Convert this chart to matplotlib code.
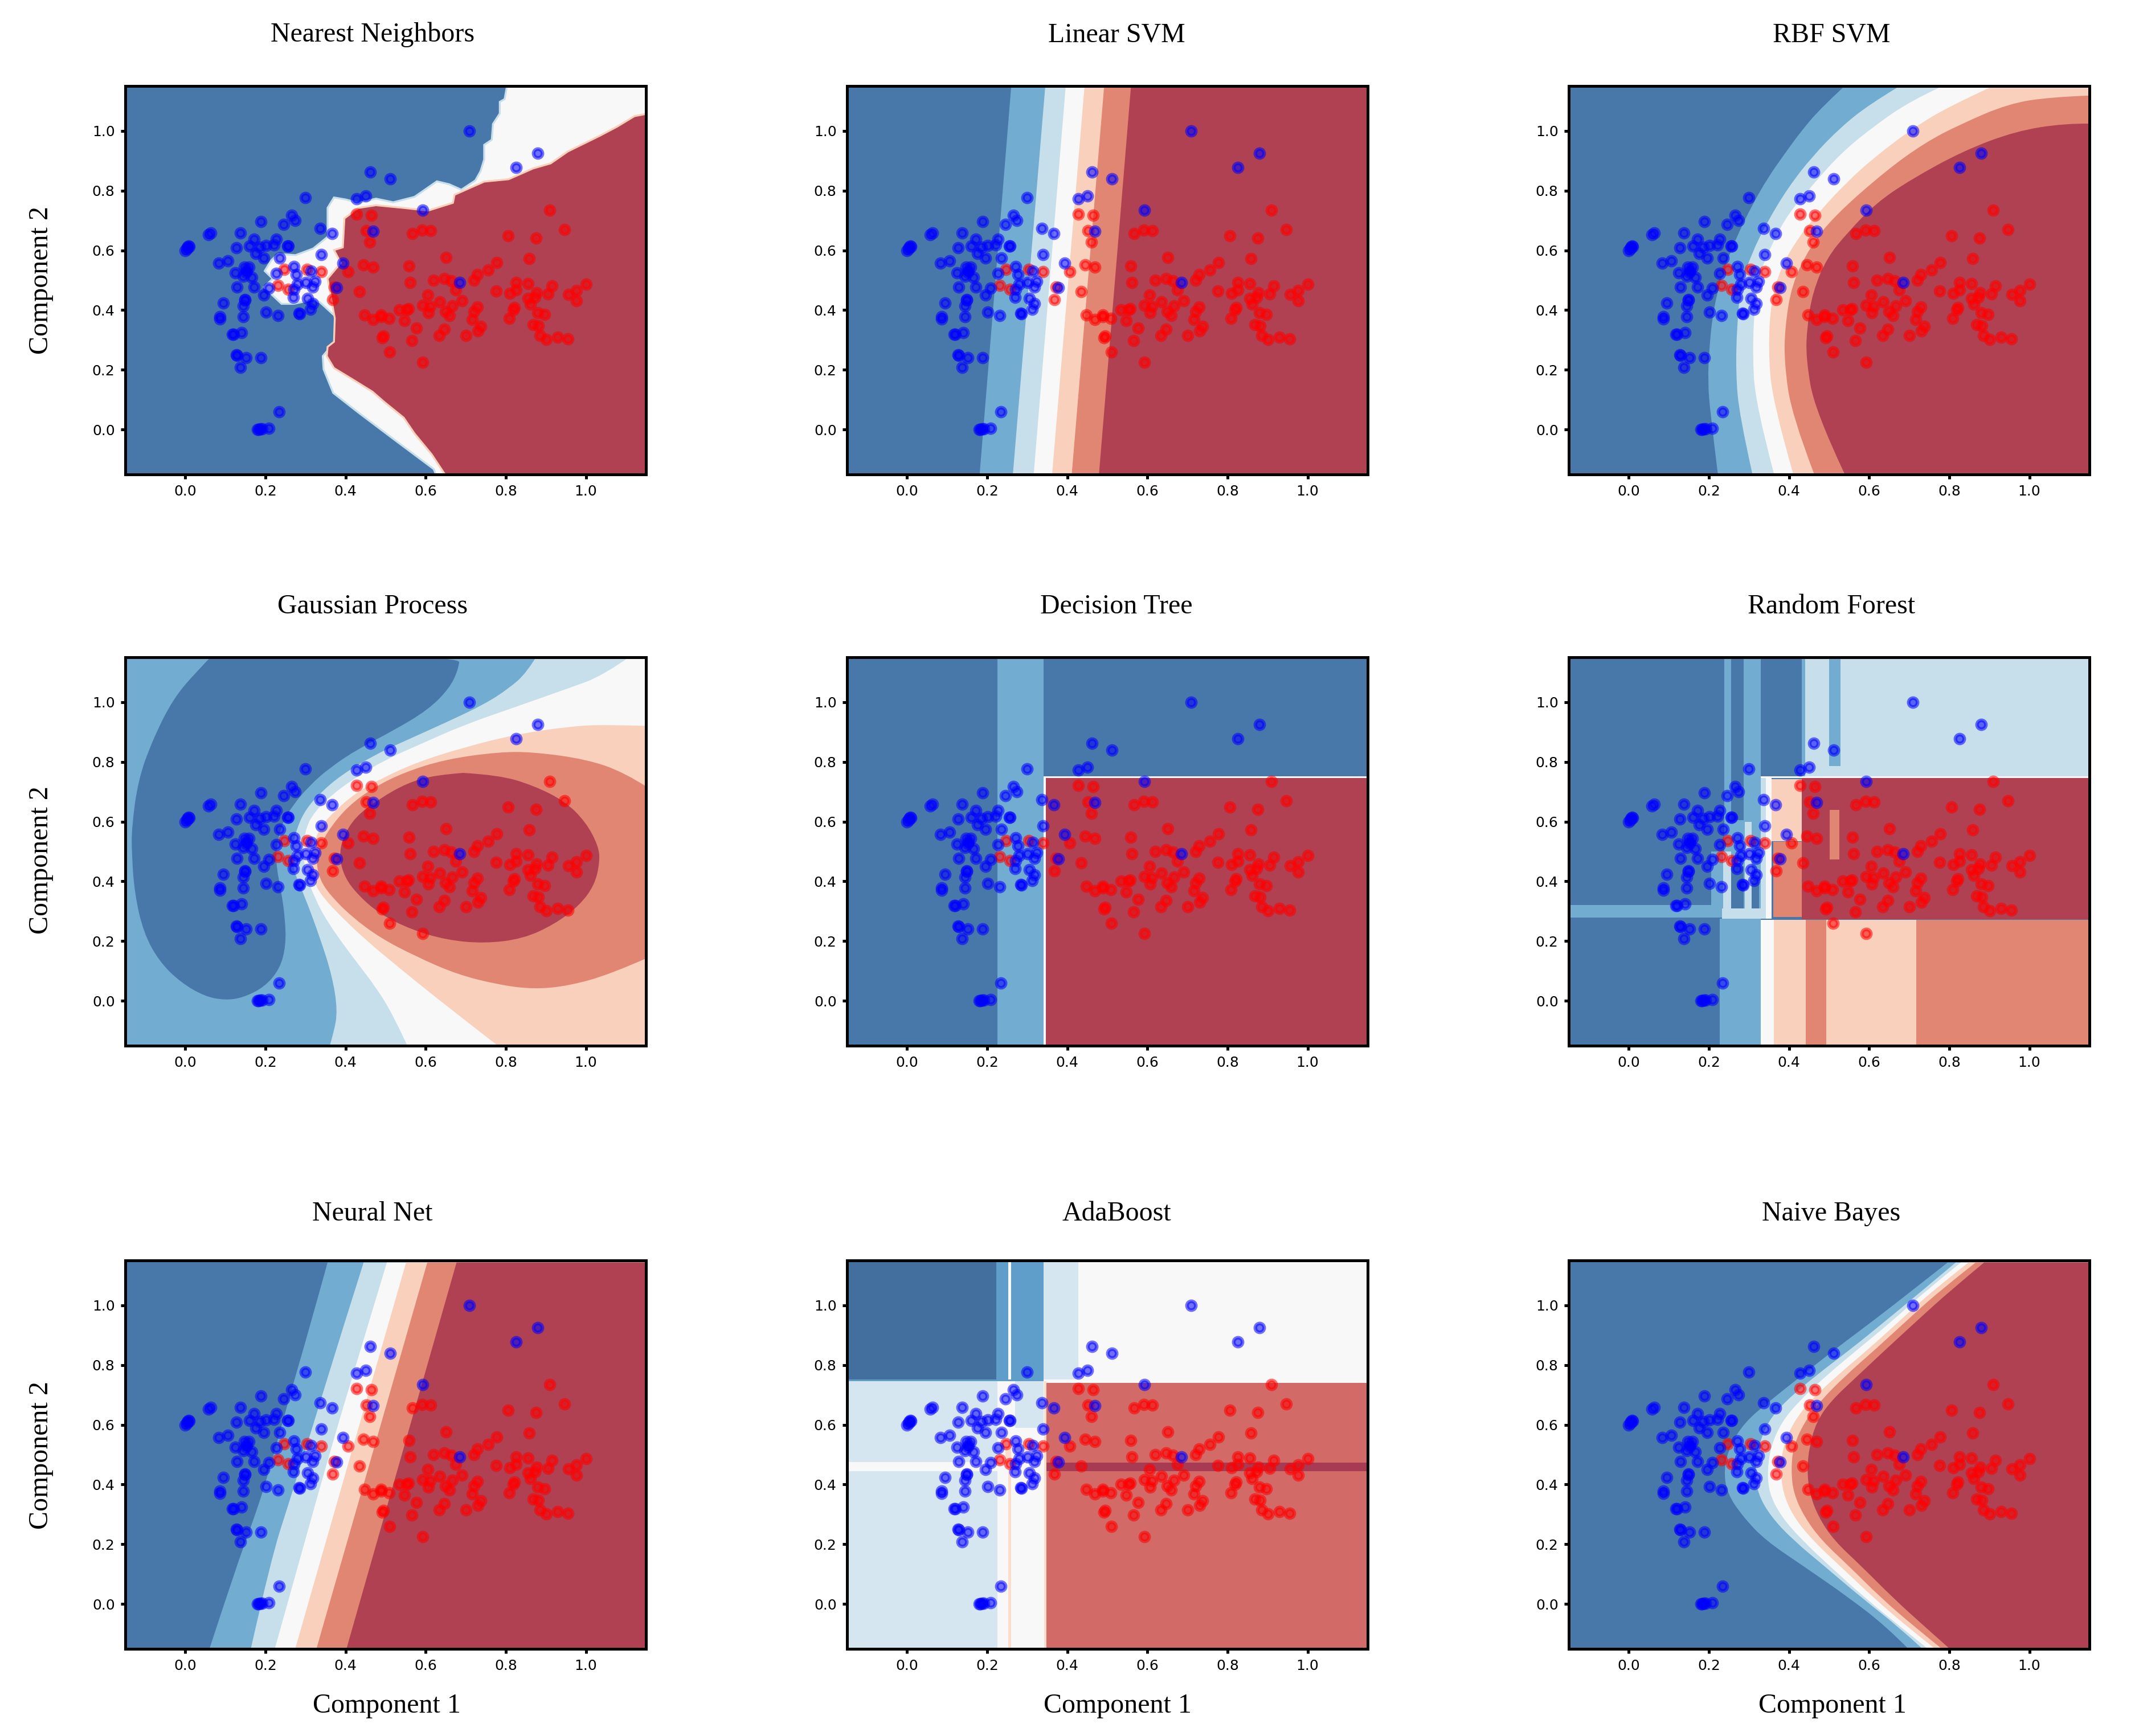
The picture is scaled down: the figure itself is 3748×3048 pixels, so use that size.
import numpy as np
import matplotlib
matplotlib.use("Agg")
import matplotlib.pyplot as plt
from matplotlib.path import Path
from matplotlib.patches import PathPatch

W, H = 3748, 3048
SERIF = ["Liberation Serif", "DejaVu Serif"]

# level colours of the decision surfaces (RdBu at alpha 0.8 over white)
L = ["#4878A9", "#72ACD1", "#C7DFEB", "#F8F8F8", "#F9D0BB", "#E08673", "#AF4152"]
LA = ["#436F9F", "#5F9DCB", "#D5E6F0", "#F8F8F8", "#FDDCCB", "#D26B68", "#A63B53"]

names = ["Nearest Neighbors", "Linear SVM", "RBF SVM",
         "Gaussian Process", "Decision Tree", "Random Forest",
         "Neural Net", "AdaBoost", "Naive Bayes"]
ticks = [0.0, 0.2, 0.4, 0.6, 0.8, 1.0]

# scatter points
blue_x = [0.0, 0.003, 0.005, 0.008, 0.01, .057, .064, .137, .188, .127, .172, .160, .185, .202, .221, .227,
          .255, .257, .175, .195, .236, .083, .106, .147, .159, .153, .151, .125, .144, .166, .129, .172,
          .196, .149, .149, .095, .144, .145, .086, .086, .201, .231, .284, .285, .312, .318, .305, .269,
          .271, .279, .301, .323, .318, .209, .227, .277, .271, .314, .339, .367, .336, .246, .265, .274,
          .300, .427, .450, .462, .512, .709, .826, .880, .592, .469, .393, .377, .685, .118, .120, .140,
          .128, .129, .152, .188, .137, .234, .180, .183, .187, .191, .208]
blue_y = [.600, .605, .610, .615, .613, .652, .659, .658, .696, .608, .637, .614, .610, .617, .619, .638,
          .615, .615, .590, .575, .575, .558, .565, .543, .544, .533, .527, .525, .514, .509, .478, .478,
          .450, .436, .433, .423, .415, .378, .378, .371, .393, .382, .389, .388, .402, .421, .439, .443,
          .470, .487, .492, .496, .477, .474, .522, .520, .546, .531, .586, .656, .673, .687, .718, .701,
          .776, .773, .783, .862, .839, 1.0, .877, .926, .735, .664, .557, .476, .492, .318, .318, .324,
          .250, .248, .241, .241, .208, .060, .000, .001, .002, .002, .004]
red_x = [.428, .464, .451, .460, .567, .591, .613, .806, .875, .909, .947, .859, .778, .756, .729, .720,
         .651, .559, .561, .620, .646, .663, .675, .690, .666, .635, .605, .593, .611, .606, .557, .552,
         .534, .650, .659, .647, .633, .701, .729, .720, .716, .737, .730, .565, .577, .547, .508, .488,
         .489, .468, .447, .495, .491, .510, .592, .434, .468, .445, .406, .368, .339, .304, .247, .231,
         .257, .776, .810, .826, .825, .856, .915, .906, .877, .873, .855, .861, .976, .956, 1.0, .977,
         .821, .818, .809, .880, .897, .868, .881, .886, .901, .929, .955, .372]
red_y = [.721, .718, .665, .628, .657, .667, .665, .649, .641, .735, .670, .573, .560, .535, .520, .500,
         .577, .548, .493, .500, .505, .499, .468, .432, .415, .428, .450, .417, .413, .391, .404, .401,
         .400, .395, .382, .336, .315, .316, .410, .395, .369, .345, .331, .297, .339, .364, .372, .384,
         .378, .369, .383, .314, .307, .259, .225, .461, .543, .551, .528, .435, .529, .536, .537, .482,
         .470, .464, .456, .468, .492, .489, .481, .455, .459, .443, .439, .419, .465, .452, .487, .432,
         .408, .401, .373, .391, .385, .351, .347, .316, .301, .310, .303, .478]

# Nearest Neighbors boundaries
knn_white_x = [.803, .797, .785, .785, .768, .765, .746, .746, .737, .724, .689, .659, .628, .572, .519, .476, .432,
               .401, .371, .355, .355, .319, .275, .231, .214, .198, .218, .196, .240, .271, .319, .336, .375, .373,
               .343, .345, .369, .432, .519, .620, .628]
knn_white_y = [1.150, 1.106, 1.097, 1.058, 1.023, .970, .953, .904, .865, .834, .803, .821, .831, .779, .761, .773,
               .759, .770, .777, .742, .645, .606, .584, .588, .566, .531, .505, .477, .421, .421, .435, .426, .378,
               .294, .246, .202, .123, .057, -.031, -.132, -.158]
knn_red_x = [1.156, 1.121, 1.078, 1.034, .955, .912, .868, .807, .746, .672, .668, .606, .545, .476, .432, .397, .393,
             .371, .388, .355, .373, .371, .355, .353, .371, .414, .467, .497, .545, .572, .615, .650]
knn_red_y = [1.058, 1.049, 1.014, .983, .931, .891, .874, .838, .830, .786, .759, .733, .742, .751, .742, .707, .610,
             .601, .558, .505, .373, .294, .277, .246, .206, .171, .127, .092, .040, -.013, -.083, -.154]

# Linear SVM band edges at the top and the bottom of the axes
svm_y = [1.15, -.15]
svm_top = [.260, .345, .396, .443, .492, .559]
svm_bottom = [.181, .264, .316, .362, .411, .479]

# RBF SVM band edges
rbf_x1 = [.534, .481, .433, .390, .346, .307, .272, .245, .224, .209, .201, .197, .204, .222]
rbf_y1 = [1.144, 1.078, 1.004, .925, .841, .749, .653, .565, .477, .381, .275, .161, .047, -.146]
rbf_x2 = [.669, .599, .529, .459, .398, .346, .307, .280, .270, .267, .276, .308]
rbf_y2 = [1.144, 1.087, 1.012, .916, .811, .696, .591, .486, .354, .188, .047, -.146]
rbf_x3 = [.774, .704, .617, .529, .459, .398, .359, .328, .314, .309, .315, .362]
rbf_y3 = [1.144, 1.100, 1.021, .925, .819, .723, .626, .530, .416, .267, .091, -.146]
rbf_x4 = [.900, .800, .713, .617, .547, .477, .424, .381, .355, .348, .359, .410]
rbf_y4 = [1.144, 1.082, 1.012, .916, .832, .732, .644, .547, .433, .267, .091, -.146]
rbf_x5 = [1.149, 1.053, .948, .826, .739, .643, .512, .451, .407, .390, .388, .407, .462]
rbf_y5 = [1.118, 1.113, 1.091, 1.021, .960, .868, .714, .609, .486, .346, .223, .047, -.146]
rbf_x6 = [1.149, 1.088, .966, .835, .704, .617, .547, .494, .459, .445, .442, .464, .538]
rbf_y6 = [1.024, 1.025, .999, .933, .837, .758, .661, .574, .460, .346, .240, .065, -.146]

# Gaussian Process contours
gp_blob_x = [.070, .686, .681, .659, .607, .520, .432, .362, .310, .266, .240, .227, .227, .240, .249, .251, .236,
             .197, .144, .100, .048, -.013, -.066, -.105, -.127, -.134, -.134, -.118, -.083, -.031, .031]
gp_blob_y = [1.160, 1.160, 1.107, 1.046, .975, .905, .844, .782, .721, .651, .589, .511, .449, .361, .274, .186,
             .107, .046, .011, .002, .015, .063, .133, .230, .361, .493, .581, .739, .870, 1.011, 1.107]
gp_light_x = [.880, .852, .808, .747, .651, .563, .476, .389, .336, .301, .279, .265, .271, .297, .336, .367, .380,
              .371, .360]
gp_light_y = [1.160, 1.098, 1.046, .993, .932, .879, .826, .756, .695, .642, .581, .502, .432, .353, .212, .081,
              -.033, -.104, -.152]
gp_white_x = [1.118, 1.044, .956, .825, .694, .590, .502, .424, .362, .323, .301, .293, .301, .323, .354, .415, .476,
              .520, .555]
gp_white_y = [1.160, 1.089, 1.046, .984, .923, .861, .809, .747, .686, .633, .581, .502, .423, .344, .265, .151,
              .046, -.051, -.152]
gp_peach_x = [1.157, 1.044, .956, .825, .694, .581, .493, .424, .371, .336, .319, .314, .321, .345, .389, .450, .537,
              .651, .782]
gp_peach_y = [.920, .925, .918, .892, .848, .800, .747, .695, .633, .581, .519, .467, .396, .344, .282, .204, .107,
              -.016, -.152]
gp_salmon_x = [1.157, 1.096, 1.0, .869, .782, .651, .546, .467, .406, .362, .336, .326, .336, .362, .415, .485, .572,
               .677, .782, .869, .956, 1.061, 1.157]
gp_salmon_y = [.712, .765, .809, .833, .833, .809, .765, .712, .651, .581, .519, .467, .405, .353, .282, .212, .151,
               .089, .054, .039, .050, .089, .146]
gp_red_x = [.694, .782, .869, .948, 1.0, 1.031, 1.035, 1.022, .983, .921, .843, .747, .651, .563, .485, .432, .397,
            .384, .393, .424, .485, .555, .624]
gp_red_y = [.763, .756, .721, .668, .598, .519, .467, .388, .318, .256, .208, .192, .204, .239, .291, .353, .414,
            .484, .546, .616, .677, .730, .756]

# Neural Net band edges
nn_x1 = [.355, .306, .262, .205, .166, .127, .061]
nn_y1 = [1.143, .906, .704, .424, .266, .125, -.146]
nn_x2 = [.445, .389, .323, .258, .214, .164]
nn_y2 = [1.143, .906, .617, .336, .152, -.146]
nn_x3 = [.503, .436, .367, .297, .224]
nn_y3 = [1.143, .845, .538, .204, -.146]
nn_x4 = [.551, .419, .275]
nn_y4 = [1.143, .529, -.146]
nn_x5 = [.604, .328]
nn_y5 = [1.143, -.146]
nn_x6 = [.677, .403]
nn_y6 = [1.143, -.146]

# Naive Bayes band edges, all read at the same heights
nb_y = [1.143, 1.046, .950, .854, .766, .678, .608, .529, .450, .371, .292, .213, .125, .020, -.076, -.146]
nb_x1 = [.796, .704, .612, .516, .433, .350, .289, .252, .237, .245, .285, .341, .438, .551, .643, .695]
nb_x2 = [.816, .730, .643, .555, .468, .390, .346, .324, .315, .321, .355, .411, .490, .582, .673, .730]
nb_x3 = [.829, .739, .660, .573, .494, .424, .381, .355, .346, .350, .381, .433, .503, .590, .678, .743]
nb_x4 = [.848, .756, .678, .599, .521, .451, .411, .385, .379, .385, .411, .459, .529, .612, .695, .761]
nb_x5 = [.866, .774, .695, .617, .542, .477, .438, .411, .405, .411, .438, .481, .551, .630, .713, .778]
nb_x6 = [.887, .800, .721, .643, .573, .503, .468, .451, .445, .451, .473, .512, .582, .660, .739, .798]

# Decision Tree boxes, painted in order
dt_x0 = [-.15, .226, .341, .347]
dt_x1 = [1.15, .341, 1.15, 1.15]
dt_y0 = [-.15, -.15, -.15, -.15]
dt_y1 = [1.15, 1.15, .752, .745]
dt_lv = [0, 1, 3, 6]

# Random Forest boxes, painted in order
rf_x0 = [-.15, .239, .255, .255, .205, .236, .290, .306, .233, -.15, .227, .329, .432, .440, .500,
         .329, .342, .357, .360, .432, .501, .329, .362, .442, .493, .718, .329]
rf_x1 = [1.15, .329, .286, .286, .239, .255, .306, .325, .329, .233, .329, .432, .440, 1.15, .529,
         .342, .357, .432, .432, 1.15, .526, .362, .442, .493, .718, 1.15, 1.15]
rf_y0 = [-.15, .278, .605, .31, .31, .31, .31, .31, .276, .278, -.15, .752, .752, .752, .785,
         .276, .276, .535, .28, .274, .474, -.15, -.15, -.15, -.15, -.15, .745]
rf_y1 = [1.15, 1.15, 1.15, .45, .50, .50, .60, .40, .31, .32, .276, 1.15, 1.15, 1.15, 1.15,
         .745, .745, .742, .533, .745, .64, .272, .272, .272, .272, .272, .752]
rf_lv = [0, 1, 0, 0, 1, 2, 2, 0, 2, 1, 1, 0, 1, 2, 1,
         2, 3, 4, 5, 6, 5, 3, 4, 5, 4, 5, 3]

# AdaBoost boxes, painted in order
ab_x0 = [-.15, -.15, .222, .260, .341, -.15, -.15, .27, .342, .252, .245, .348, .348]
ab_x1 = [.341, .222, .252, .341, .428, .226, .226, .341, .348, .260, .260, 1.15, 1.15]
ab_y0 = [.745, .752, .752, .752, .752, -.15, .444, .59, -.15, -.15, .47, -.15, .445]
ab_y1 = [.752, 1.15, 1.15, 1.15, 1.15, .745, .475, .745, .745, .45, .52, .741, .474]
ab_lv = [1, 0, 1, 1, 2, 2, 3, 2, 4, 4, 4, 5, 6]


def curve_path(xs, ys):
    # quadratic pieces through the midpoints, so the edges read as smooth
    verts = [(xs[0], ys[0])]
    codes = [Path.MOVETO]
    n = len(xs)
    if n == 2:
        verts.append((xs[1], ys[1]))
        codes.append(Path.LINETO)
        return verts, codes
    for i in range(1, n - 1):
        verts.append((xs[i], ys[i]))
        if i == n - 2:
            verts.append((xs[i + 1], ys[i + 1]))
        else:
            verts.append(((xs[i] + xs[i + 1]) / 2, (ys[i] + ys[i + 1]) / 2))
        codes += [Path.CURVE3, Path.CURVE3]
    return verts, codes


def fill_right(ax, xs, ys, color):
    verts, codes = curve_path(xs, ys)
    verts += [(1.4, ys[-1]), (1.4, ys[0]), verts[0]]
    codes += [Path.LINETO, Path.LINETO, Path.CLOSEPOLY]
    ax.add_patch(PathPatch(Path(verts, codes), fc=color, ec="none", lw=0))


def fill_blob(ax, xs, ys, color):
    verts, codes = curve_path(list(xs) + [xs[0]], list(ys) + [ys[0]])
    verts.append(verts[0])
    codes.append(Path.CLOSEPOLY)
    ax.add_patch(PathPatch(Path(verts, codes), fc=color, ec="none", lw=0))


def base(ax, color):
    ax.set_facecolor(color)


def boxes(ax, x0, x1, y0, y1, lv, pal):
    for a, b, c, d, k in zip(x0, x1, y0, y1, lv):
        ax.bar(a, d - c, width=b - a, bottom=c, align="edge", color=pal[k], lw=0)


def draw_knn(ax):
    base(ax, L[0])
    ax.fill(knn_white_x + [1.4, 1.4], knn_white_y + [-.158, 1.15], fc=L[3], ec=L[2], lw=0.8)
    ax.fill(knn_red_x + [1.4, 1.4], knn_red_y + [-.154, 1.058], fc=L[6], ec=L[4], lw=0.8)


def draw_linear(ax):
    base(ax, L[0])
    for k in range(6):
        fill_right(ax, [svm_top[k], svm_bottom[k]], svm_y, L[k + 1])


def draw_rbf(ax):
    base(ax, L[0])
    edges = [(rbf_x1, rbf_y1), (rbf_x2, rbf_y2), (rbf_x3, rbf_y3),
             (rbf_x4, rbf_y4), (rbf_x5, rbf_y5), (rbf_x6, rbf_y6)]
    for k, (ex, ey) in enumerate(edges):
        fill_right(ax, ex, ey, L[k + 1])


def draw_gp(ax):
    base(ax, L[1])
    fill_right(ax, gp_light_x, gp_light_y, L[2])
    fill_right(ax, gp_white_x, gp_white_y, L[3])
    fill_right(ax, gp_peach_x, gp_peach_y, L[4])
    fill_right(ax, gp_salmon_x, gp_salmon_y, L[5])
    fill_blob(ax, gp_red_x, gp_red_y, L[6])
    fill_blob(ax, gp_blob_x, gp_blob_y, L[0])


def draw_tree(ax):
    boxes(ax, dt_x0, dt_x1, dt_y0, dt_y1, dt_lv, L)


def draw_forest(ax):
    boxes(ax, rf_x0, rf_x1, rf_y0, rf_y1, rf_lv, L)


def draw_net(ax):
    base(ax, L[0])
    edges = [(nn_x1, nn_y1), (nn_x2, nn_y2), (nn_x3, nn_y3),
             (nn_x4, nn_y4), (nn_x5, nn_y5), (nn_x6, nn_y6)]
    for k, (ex, ey) in enumerate(edges):
        fill_right(ax, ex, ey, L[k + 1])


def draw_ada(ax):
    base(ax, LA[3])
    boxes(ax, ab_x0, ab_x1, ab_y0, ab_y1, ab_lv, LA)


def draw_bayes(ax):
    base(ax, L[0])
    for k, ex in enumerate([nb_x1, nb_x2, nb_x3, nb_x4, nb_x5, nb_x6]):
        fill_right(ax, ex, nb_y, L[k + 1])


drawers = [draw_knn, draw_linear, draw_rbf, draw_gp, draw_tree, draw_forest,
           draw_net, draw_ada, draw_bayes]

# pixel layout of the sheet
col_left = [220, 1487, 2754]
row_top = [151, 1154, 2213]
ax_w, ax_h = 914, 682
title_cx = [654, 1960, 3215]
title_cy = [61, 1065, 2131]
xlabel_cx = [679, 1962, 3217]
xlabel_cy = 2995
ylabel_cx = 72
ylabel_cy = [492, 1510, 2555]

fig = plt.figure(figsize=(W / 300, H / 300), dpi=300)

for i, name in enumerate(names):
    r, c = divmod(i, 3)
    ax = fig.add_axes([col_left[c] / W, 1 - (row_top[r] + ax_h) / H, ax_w / W, ax_h / H])
    drawers[i](ax)
    ax.scatter(red_x, red_y, s=14, c="#FF0000", alpha=0.55, edgecolors="#FF0000", linewidths=1.5, zorder=5)
    ax.scatter(blue_x, blue_y, s=14, c="#0000FF", alpha=0.55, edgecolors="#0000FF", linewidths=1.5, zorder=6)
    ax.set_xlim(-.15, 1.15)
    ax.set_ylim(-.15, 1.15)
    ax.set_xticks(ticks)
    ax.set_yticks(ticks)
    ax.tick_params(labelsize=6, length=2, width=1.2, pad=2.4)
    for s in ax.spines.values():
        s.set_linewidth(1.2)
    fig.text(title_cx[c] / W, 1 - title_cy[r] / H, name, family=SERIF, fontsize=11.5, ha="center", va="center")
    if c == 0:
        fig.text(ylabel_cx / W, 1 - ylabel_cy[r] / H, "Component 2", family=SERIF, fontsize=11.5,
                 rotation=90, ha="center", va="center")
    if r == 2:
        fig.text(xlabel_cx[c] / W, 1 - xlabel_cy / H, "Component 1", family=SERIF, fontsize=11.5,
                 ha="center", va="center")

fig.savefig("out.png", dpi=300)
